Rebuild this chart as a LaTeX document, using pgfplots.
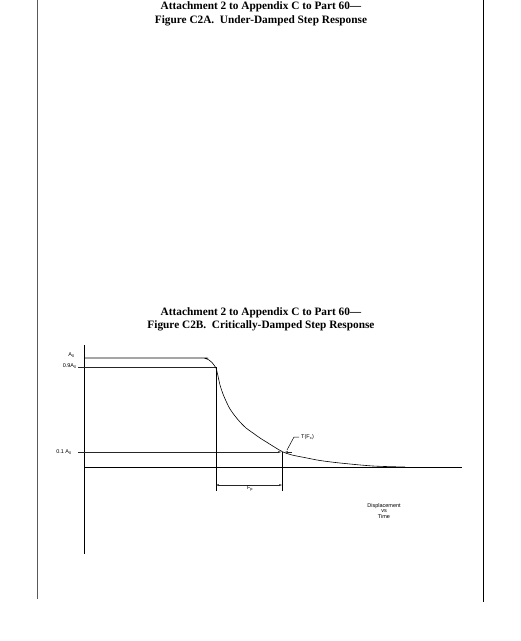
\documentclass[border=0pt]{standalone}
\usepackage{pgfplots}
\pgfplotsset{compat=1.18}
\usepackage{fontspec}
\setmainfont{Liberation Serif}
\newfontfamily\sansf{Liberation Sans}
\usetikzlibrary{arrows.meta}
\begin{document}
\begin{tikzpicture}
\path[use as bounding box] (0,0) rectangle (521pt,641pt);
\begin{axis}[
  at={(0,0)}, anchor=south west,
  scale only axis, width=521pt, height=641pt,
  xmin=0, xmax=521, ymin=0, ymax=641, y dir=reverse,
  hide axis, clip=false,
]
% page borders
\addplot[gray!70!black, line width=0.7pt] coordinates {(37,0) (37,599)};
\addplot[black, line width=0.7pt] coordinates {(483,0) (483,602)};
% vertical axis
\addplot[black, line width=0.7pt] coordinates {(84,345) (84,554)};
% baseline
\addplot[black, line width=0.7pt] coordinates {(84,467) (462,467)};
% 0.9 A0 line
\addplot[black!85, line width=0.6pt] coordinates {(78,367) (216,367)};
% 0.1 A0 line
\addplot[black!85, line width=0.6pt, -{Stealth[length=3pt,width=2pt]}] coordinates {(78,452) (281,452)};
\addplot[black!85, line width=0.5pt, -{Stealth[length=3pt,width=2pt]}] coordinates {(292,452) (285,452)};
% verticals
\addplot[black, line width=0.6pt] coordinates {(216,367) (216,491)};
\addplot[black, line width=0.6pt] coordinates {(282,452) (282,491)};
% dimension line
\addplot[black!85, line width=0.5pt, {Stealth[length=3pt,width=2pt]}-{Stealth[length=3pt,width=2pt]}] coordinates {(216,485) (282,485)};
% leader to T(Fx)
\addplot[black, line width=0.5pt] coordinates {(299,437) (294,437) (287,450)};
% step response curve
\addplot[black, line width=0.6pt, smooth, tension=0.5] coordinates {
 (84,358) (200,358) (205,358.4) (209,360) (212,362.5) (214,365) (216,368)
 (218,376) (220,385) (223,394) (226,401) (230,409) (235,416) (240,422)
 (246,428) (253,433) (260,438) (268,443) (276,448) (283,452) (292,455)
 (307,458) (320,460.5) (340,463) (373,466) (405,467)};
% titles
\node[font=\fontsize{11.3}{13}\selectfont\bfseries] at (axis cs:261,7) {Attachment 2 to Appendix C to Part 60---};
\node[font=\fontsize{11.3}{13}\selectfont\bfseries] at (axis cs:261,21) {Figure C2A.\ \ Under-Damped Step Response};
\node[font=\fontsize{11.3}{13}\selectfont\bfseries] at (axis cs:261,313) {Attachment 2 to Appendix C to Part 60---};
\node[font=\fontsize{11.3}{13}\selectfont\bfseries] at (axis cs:261,326) {Figure C2B.\ \ Critically-Damped Step Response};
% small labels
\node[font=\sansf\fontsize{5.5}{6}\selectfont, anchor=east, inner sep=0pt] at (axis cs:75,355) {A\textsubscript{0}};
\node[font=\sansf\fontsize{5.5}{6}\selectfont, anchor=east, inner sep=0pt] at (axis cs:77,366) {0.9A\textsubscript{0}};
\node[font=\sansf\fontsize{5.5}{6}\selectfont, anchor=east, inner sep=0pt] at (axis cs:72,452) {0.1 A\textsubscript{0}};
\node[font=\sansf\fontsize{5.5}{6}\selectfont, inner sep=0pt] at (axis cs:250,489) {F\textsubscript{p}};
\node[font=\sansf\fontsize{5.5}{6}\selectfont, anchor=west, inner sep=0pt] at (axis cs:301,437) {T(F\textsubscript{x})};
\node[font=\sansf\fontsize{5.5}{6}\selectfont, inner sep=0pt] at (axis cs:384,506) {Displacement};
\node[font=\sansf\fontsize{5.5}{6}\selectfont, inner sep=0pt] at (axis cs:384,511.5) {vs};
\node[font=\sansf\fontsize{5.5}{6}\selectfont, inner sep=0pt] at (axis cs:384,517) {Time};
\end{axis}
\end{tikzpicture}
\end{document}
